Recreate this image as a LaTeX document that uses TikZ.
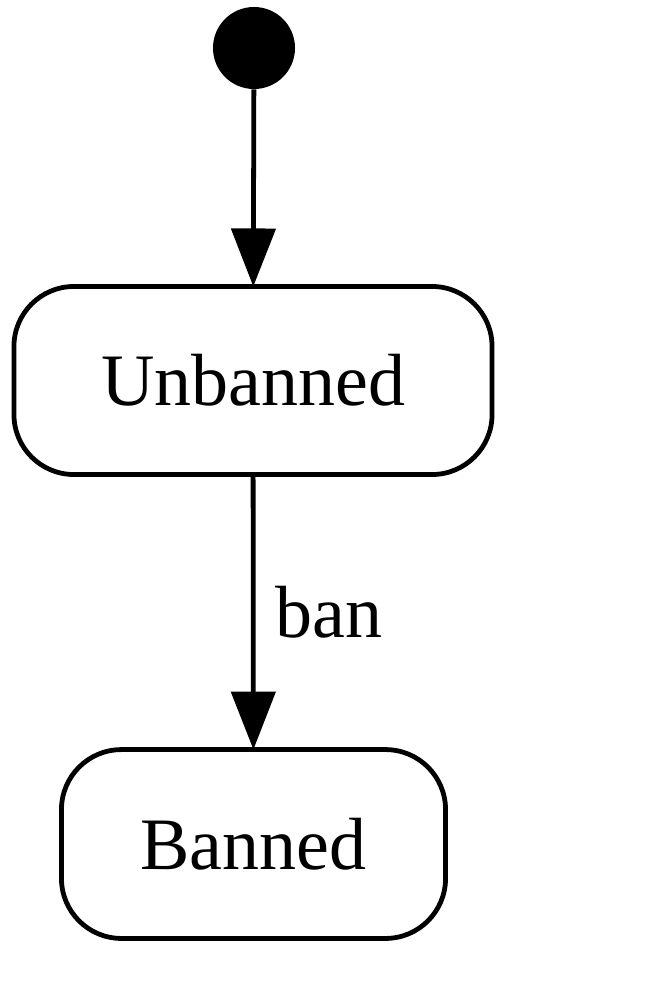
\documentclass[tikz,border=0pt]{standalone}
\usepackage{fontspec}
\setmainfont{Liberation Serif}
\usetikzlibrary{arrows.meta}
\begin{document}
\begin{tikzpicture}[x=0.025cm,y=-0.025cm,
  state/.style={draw,line width=3.4pt,rounded corners=1.5cm,inner sep=0pt,outer sep=0pt,font=\fontsize{52.6}{60}\selectfont},
  trans/.style={line width=3.4pt,-{Triangle[length=1.45cm,width=1.1cm]}},
  lbl/.style={font=\fontsize{52.6}{60}\selectfont,inner sep=0pt,anchor=west}]
\useasboundingbox (0,0) rectangle (656,986);
\node[circle,fill=black,minimum size=2.05cm,inner sep=0pt] (init) at (254,48) {};
\node[state,minimum width=11.95cm,minimum height=4.7cm] (unb) at (253,380.5) {Unbanned};
\node[state,minimum width=9.6cm,minimum height=4.72cm] (ban) at (253.5,844) {Banned};
\draw[trans] (init) -- (unb);
\draw[trans] (unb) -- node[lbl,right=0.5cm] {ban} (ban);
\end{tikzpicture}
\end{document}
